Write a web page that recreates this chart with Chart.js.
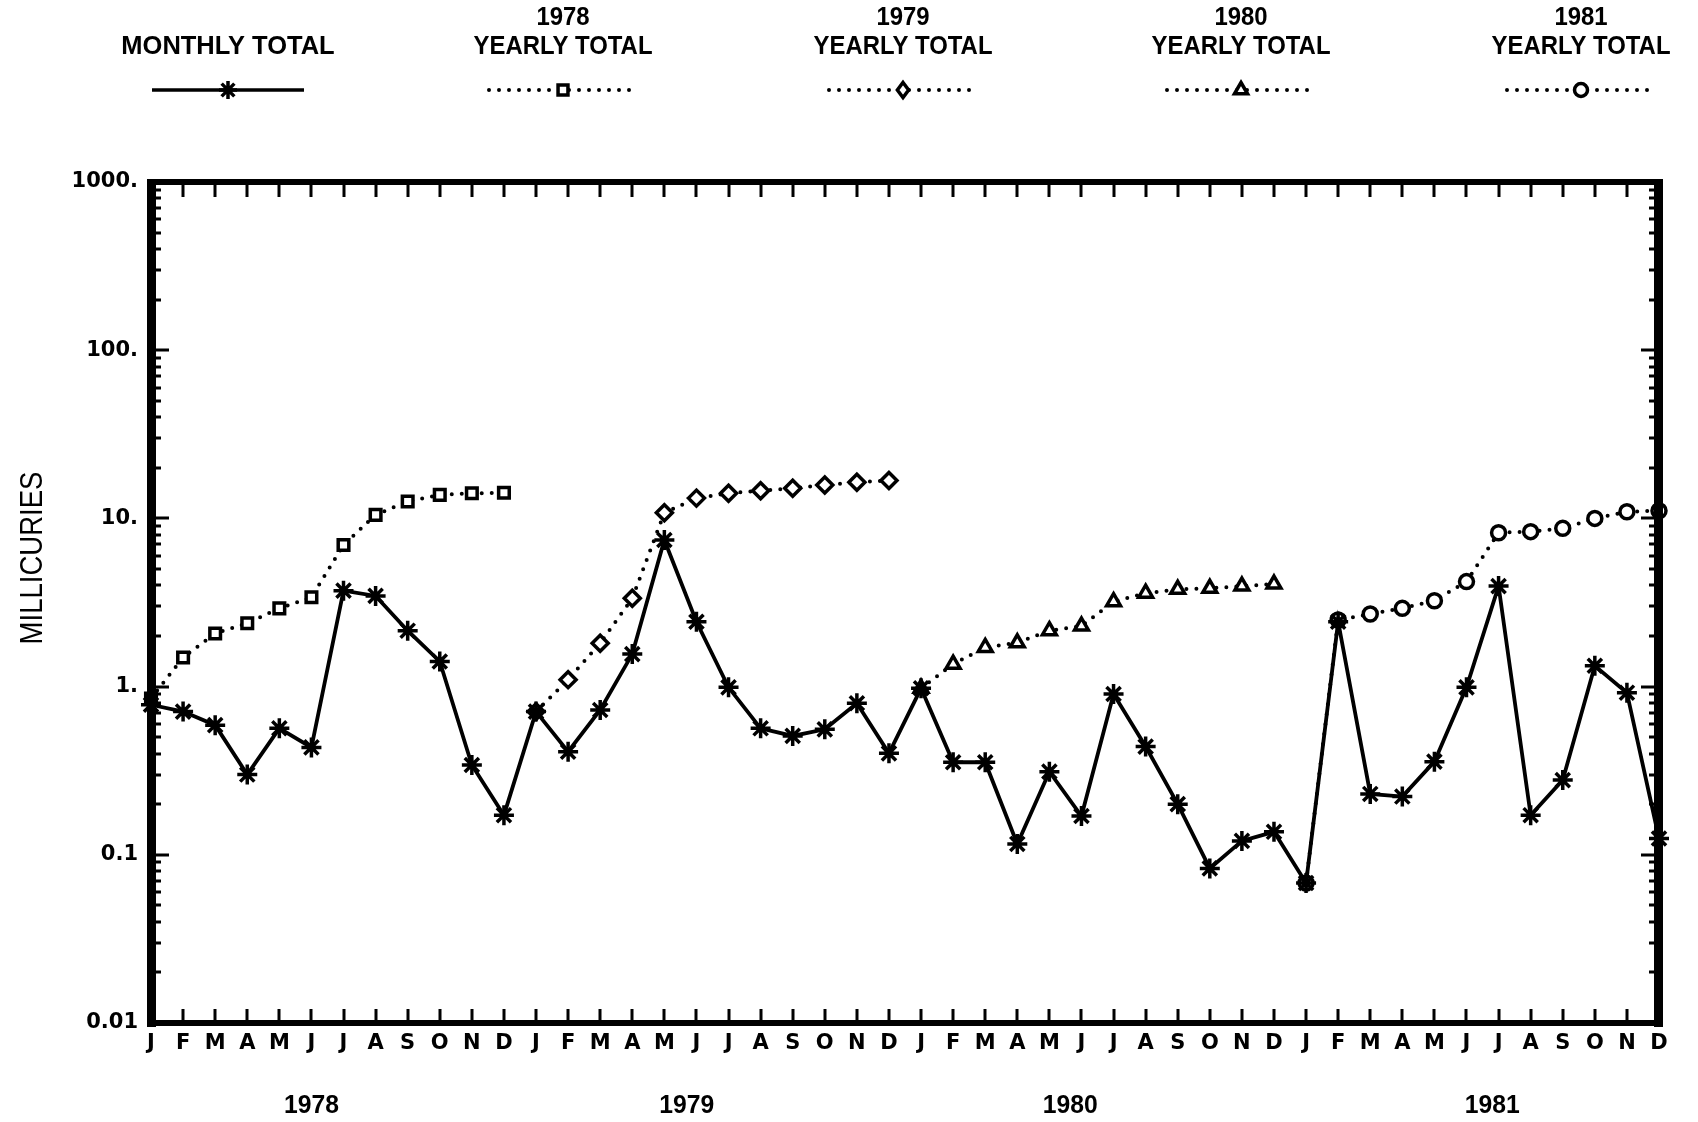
<!DOCTYPE html>
<html>
<head>
<meta charset="utf-8">
<script src="https://cdn.jsdelivr.net/npm/chart.js@4.4.1/dist/chart.umd.min.js"></script>
<style>
  html, body { margin: 0; padding: 0; background: #ffffff; }
  canvas { display: block; }
</style>
</head>
<body>
<canvas id="chart" width="1698" height="1122" style="width:1698px;height:1122px"></canvas>
<script>
// Month letters along the time axis (Jan 1978 .. Dec 1981)
const monthLetters = ['J','F','M','A','M','J','J','A','S','O','N','D'];
const years = ['1978', '1979', '1980', '1981'];

// Monthly releases, millicuries
const monthlyTotal = [
  0.78, 0.71, 0.59, 0.30, 0.565, 0.435, 3.72, 3.46, 2.15, 1.41, 0.342, 0.172,
  0.71, 0.41, 0.726, 1.56, 7.44, 2.43, 0.99, 0.565, 0.509, 0.557, 0.796, 0.401,
  0.977, 0.355, 0.355, 0.116, 0.312, 0.170, 0.904, 0.44, 0.200, 0.083, 0.121, 0.137,
  0.068, 2.43, 0.23, 0.222, 0.358, 0.99, 3.96, 0.172, 0.278, 1.33, 0.92, 0.125
];

// Running yearly totals, millicuries
const yearly1978 = [0.85, 1.49, 2.07, 2.38, 2.92, 3.40, 6.95, 10.5, 12.6, 13.8, 14.1, 14.2];
const yearly1979 = [0.71, 1.10, 1.81, 3.35, 10.8, 13.2, 14.1, 14.6, 15.1, 15.8, 16.4, 16.8];
const yearly1980 = [0.977, 1.36, 1.71, 1.82, 2.15, 2.29, 3.20, 3.59, 3.79, 3.84, 3.96, 4.07];
const yearly1981 = [0.068, 2.49, 2.70, 2.92, 3.24, 4.21, 8.22, 8.34, 8.73, 10.0, 10.96, 11.1];

// Value axis decades and their printed labels
const yTickValues = [0.01, 0.1, 1, 10, 100, 1000];
const yTickLabels = ['0.01', '0.1', '1.', '10.', '100.', '1000.'];

// Where each year caption sits along the month axis
const yearLabelAt = [5, 16.7, 28.65, 41.8];

const toPoints = (vals, start) => vals.map((v, i) => ({ x: start + i, y: v }));

const yearlySets = [yearly1978, yearly1979, yearly1980, yearly1981];
const yearlyStyles = ['rect', 'rectRot', 'triangle', 'circle'];
const yearlyRadius = [7.5, 8, 8, 7];

const datasets = [{
  label: 'MONTHLY TOTAL',
  data: toPoints(monthlyTotal, 0),
  borderColor: '#000',
  borderWidth: 3.8,
  pointStyle: 'star',
  pointRadius: 10,
  pointBorderWidth: 3.5,
  pointBorderColor: '#000',
  pointBackgroundColor: '#000',
  tension: 0,
  clip: false,
  order: 0
}];
yearlySets.forEach((vals, k) => {
  datasets.push({
    label: years[k] + ' YEARLY TOTAL',
    data: toPoints(vals, k * 12),
    borderColor: '#000',
    borderWidth: 4,
    borderDash: [0, 10],
    borderCapStyle: 'round',
    pointStyle: yearlyStyles[k],
    pointRadius: yearlyRadius[k],
    pointBorderWidth: 3.5,
    pointBorderColor: '#000',
    pointBackgroundColor: '#fff',
    tension: 0,
    clip: false,
    order: 1
  });
});

// Small marker renderer for the key
function drawMarker(ctx, style, x, y, r) {
  ctx.save();
  ctx.lineWidth = 3.5;
  ctx.strokeStyle = '#000';
  ctx.fillStyle = '#fff';
  ctx.beginPath();
  if (style === 'star') {
    for (let a = 0; a < 4; a++) {
      const ang = a * Math.PI / 4;
      ctx.moveTo(x - r * Math.cos(ang), y - r * Math.sin(ang));
      ctx.lineTo(x + r * Math.cos(ang), y + r * Math.sin(ang));
    }
    ctx.stroke();
  } else if (style === 'rect') {
    const s = r * Math.SQRT1_2;
    ctx.rect(x - s, y - s, 2 * s, 2 * s);
    ctx.fill(); ctx.stroke();
  } else if (style === 'rectRot') {
    ctx.moveTo(x, y - r); ctx.lineTo(x + r * 0.75, y); ctx.lineTo(x, y + r); ctx.lineTo(x - r * 0.75, y); ctx.closePath();
    ctx.fill(); ctx.stroke();
  } else if (style === 'triangle') {
    ctx.moveTo(x, y - r); ctx.lineTo(x + r * 0.87, y + r * 0.5); ctx.lineTo(x - r * 0.87, y + r * 0.5); ctx.closePath();
    ctx.fill(); ctx.stroke();
  } else {
    ctx.arc(x, y, r, 0, Math.PI * 2);
    ctx.fill(); ctx.stroke();
  }
  ctx.restore();
}

// Heavy frame with inward ticks on all four sides
const framePlugin = {
  id: 'frame',
  afterDatasetsDraw(chart) {
    const { ctx, chartArea: a, scales } = chart;
    const xs = scales.x, ys = scales.y;
    ctx.save();
    ctx.fillStyle = '#000';
    ctx.fillRect(a.left - 4, a.top - 3, 9, a.bottom - a.top + 7);       // left
    ctx.fillRect(a.right - 5, a.top - 3, 9, a.bottom - a.top + 7);      // right
    ctx.fillRect(a.left - 4, a.top - 3, a.right - a.left + 8, 6);       // top
    ctx.fillRect(a.left - 4, a.bottom - 3, a.right - a.left + 8, 6);    // bottom
    ctx.strokeStyle = '#000';
    ctx.lineWidth = 3;
    ctx.beginPath();
    for (let i = 1; i < 47; i++) {
      const x = Math.round(xs.getPixelForValue(i));
      ctx.moveTo(x, a.top); ctx.lineTo(x, a.top + 15);
      ctx.moveTo(x, a.bottom); ctx.lineTo(x, a.bottom - 14);
    }
    for (let d = -2; d <= 2; d++) {
      for (let k = 1; k <= 9; k++) {
        const v = k * Math.pow(10, d);
        if (v <= 0.01) continue;
        const y = Math.round(ys.getPixelForValue(v));
        const len = k === 1 ? 18 : 10;
        ctx.moveTo(a.left, y); ctx.lineTo(a.left + len, y);
        ctx.moveTo(a.right, y); ctx.lineTo(a.right - len, y);
      }
    }
    ctx.stroke();
    ctx.restore();
  }
};

// Key across the top, year captions and the value-axis title
const captionPlugin = {
  id: 'captions',
  afterDraw(chart) {
    const { ctx, scales } = chart;
    const xs = scales.x;
    ctx.save();
    ctx.fillStyle = '#000';
    ctx.textAlign = 'center';
    ctx.textBaseline = 'middle';

    const keyCenters = [228, 563, 903, 1241, 1581];
    const keyY = 90;
    const ds = chart.data.datasets;
    const keyFont = 'bold 26px "Liberation Sans", Arial, sans-serif';
    keyCenters.forEach((cx, i) => {
      ctx.font = keyFont;
      if (i === 0) {
        ctx.save(); ctx.translate(cx, 47); ctx.scale(0.98, 1);
        ctx.fillText('MONTHLY TOTAL', 0, 0); ctx.restore();
        ctx.save();
        ctx.lineWidth = 3.5; ctx.strokeStyle = '#000';
        ctx.beginPath(); ctx.moveTo(cx - 76, keyY); ctx.lineTo(cx + 76, keyY); ctx.stroke();
        ctx.restore();
        drawMarker(ctx, 'star', cx, keyY, 9);
      } else {
        ctx.save(); ctx.translate(cx, 0); ctx.scale(0.92, 1);
        ctx.fillText(years[i - 1], 0, 18);
        ctx.fillText('YEARLY TOTAL', 0, 47);
        ctx.restore();
        ctx.save();
        ctx.lineWidth = 4; ctx.strokeStyle = '#000'; ctx.lineCap = 'round';
        ctx.setLineDash([0, 10]);
        ctx.beginPath(); ctx.moveTo(cx - 74, keyY); ctx.lineTo(cx + 74, keyY); ctx.stroke();
        ctx.restore();
        drawMarker(ctx, ds[i].pointStyle, cx, keyY, ds[i].pointRadius - 0.5);
      }
    });

    ctx.font = 'bold 26px "Liberation Sans", Arial, sans-serif';
    years.forEach((yr, i) => {
      ctx.save();
      ctx.translate(xs.getPixelForValue(yearLabelAt[i]), 1106);
      ctx.scale(0.95, 1);
      ctx.fillText(yr, 0, 0);
      ctx.restore();
    });

    ctx.save();
    ctx.translate(33, 558);
    ctx.rotate(-Math.PI / 2);
    ctx.scale(0.86, 1);
    ctx.font = '32px "Liberation Sans", Arial, sans-serif';
    ctx.fillText('MILLICURIES', 0, 0);
    ctx.restore();
    ctx.restore();
  }
};

new Chart(document.getElementById('chart'), {
  type: 'line',
  data: { datasets },
  options: {
    responsive: false,
    animation: false,
    devicePixelRatio: 1,
    layout: { padding: { top: 182, right: 39, left: 0, bottom: 0 } },
    plugins: { legend: { display: false }, tooltip: { enabled: false } },
    scales: {
      x: {
        type: 'linear',
        min: 0,
        max: 47,
        grid: { display: false, drawTicks: false },
        border: { display: false },
        afterFit(s) { s.height = 99; },
        afterBuildTicks(s) { s.ticks = monthlyTotal.map((_, i) => ({ value: i })); },
        ticks: {
          autoSkip: false,
          maxRotation: 0,
          padding: 8,
          color: '#000',
          font: { family: '"DejaVu Sans", sans-serif', weight: 'bold', size: 21 },
          callback: (v) => monthLetters[v % 12]
        }
      },
      y: {
        type: 'logarithmic',
        min: 0.01,
        max: 1000,
        grid: { display: false, drawTicks: false },
        border: { display: false },
        afterFit(s) { s.width = 151; },
        afterBuildTicks(s) { s.ticks = yTickValues.map(v => ({ value: v })); },
        ticks: {
          padding: 13,
          color: '#000',
          font: { family: '"DejaVu Sans", sans-serif', weight: 'bold', size: 21 },
          callback: (v) => yTickLabels[yTickValues.indexOf(v)]
        }
      }
    }
  },
  plugins: [framePlugin, captionPlugin]
});
</script>
</body>
</html>
